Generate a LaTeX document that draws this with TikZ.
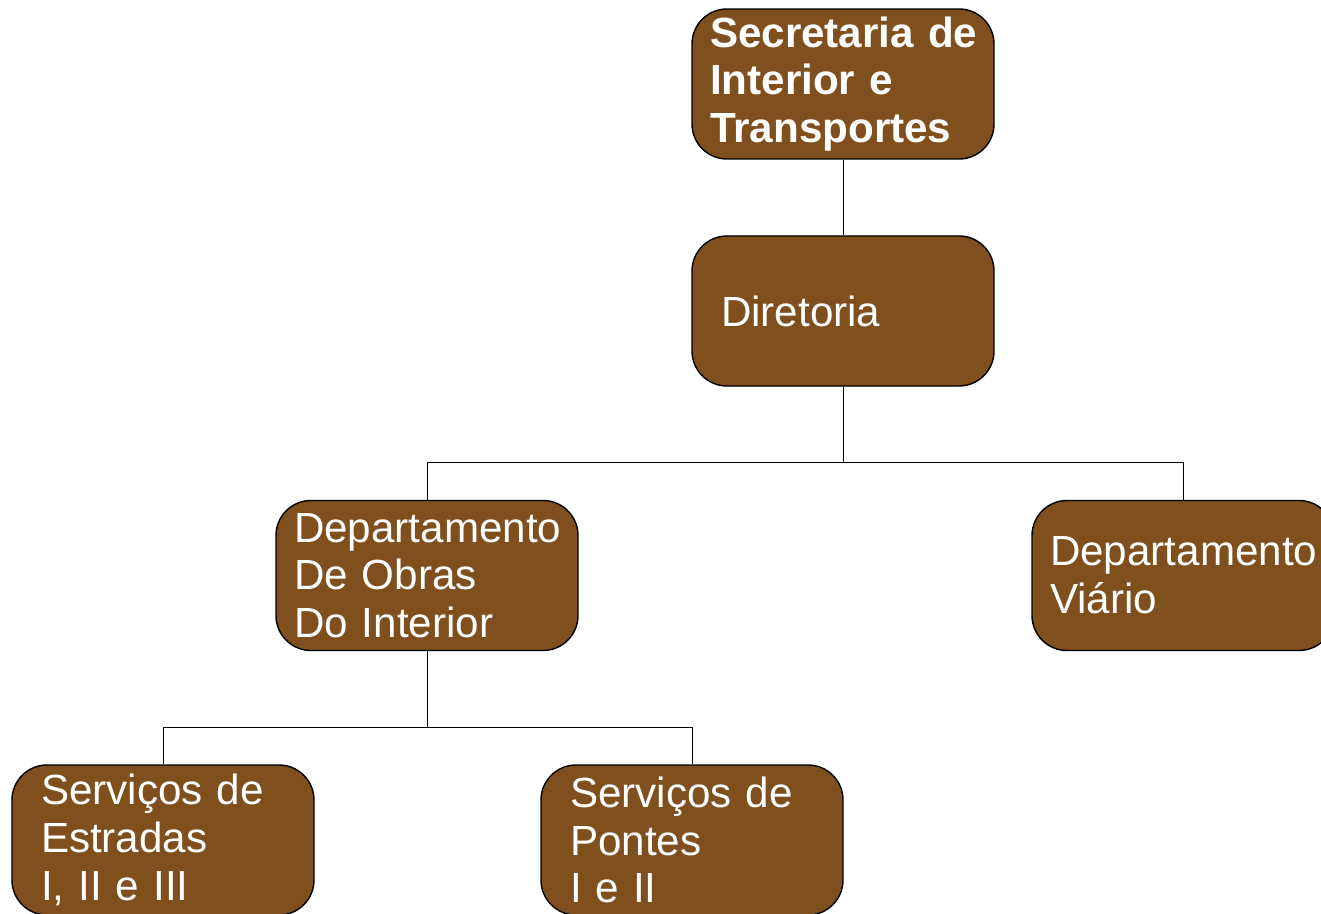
\documentclass[tikz,border=0pt]{standalone}
\usepackage{fontspec}
\setmainfont{Liberation Sans}
\definecolor{boxbrown}{HTML}{7F4F1D}

\begin{document}
\begin{tikzpicture}[line width=.5pt,
    box/.style={draw=black,line width=.8pt,fill=boxbrown,rounded corners=.7cm,
        minimum height=3cm,inner xsep=.36cm,text width=5.32cm,align=left,
        text=white,font=\fontsize{24}{27.2}\selectfont},
    padded/.style={inner xsep=.58cm,text width=4.88cm}]
        \pgfmathsetmacro{\h}{1.52}
        \useasboundingbox (0,0) rectangle (26.42,-18.28);

        \node[box,font=\bfseries\fontsize{24}{27.2}\selectfont] (SIT) at (16.86,-1.68) {\mbox{Secretaria de}\\Interior e\\Transportes};
        \node[box,padded] (Dir) at (16.86,-6.22) {Diretoria};

        \node[box] (DepObras) at (8.54,-11.51) {Departamento\\De Obras\\Do Interior};
        \node[box] (DepViario) at (23.66,-11.51) {Departamento\\Vi\'ario};

        \node[box,padded] (ServEstr) at (3.26,-16.8) {Servi\c{c}os de\\Estradas\\I, II e III};
        \node[box,padded] (ServPont) at (13.84,-16.8) {Servi\c{c}os de\\Pontes\\I e II};

        \draw (SIT) -- (Dir);
        \draw (Dir.south) -- ++(0,-\h) coordinate (busA) -| (DepObras.north);
        \draw (busA) -| (DepViario.north);
        \draw (DepObras.south) -- ++(0,-\h) coordinate (busB) -| (ServEstr.north);
        \draw (busB) -| (ServPont.north);

    \end{tikzpicture}
\end{document}
